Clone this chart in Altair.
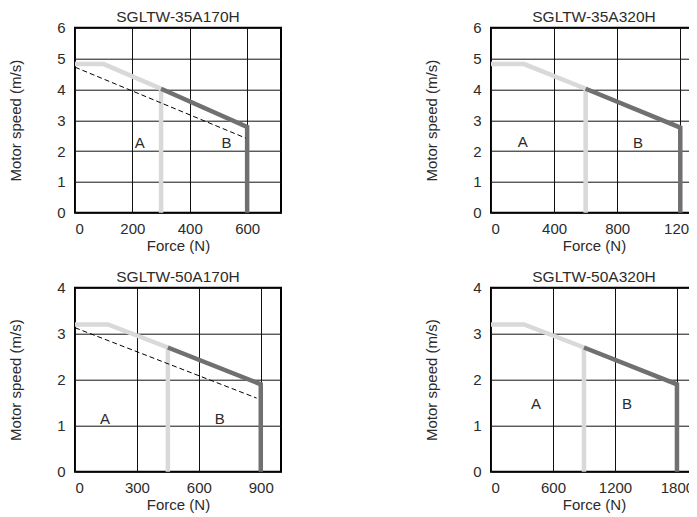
import altair as alt
import pandas as pd

FONT = "Liberation Sans"
TXT = "#2b2b2b"
LIGHT = "#d9d9d9"
DARK = "#707070"

# ---- data ----
titles = ["SGLTW-35A170H", "SGLTW-35A320H", "SGLTW-50A170H", "SGLTW-50A320H"]

tl_A_x = [0, 100, 300, 300]; tl_A_y = [4.82, 4.82, 4.02, 0]
tl_B_x = [300, 600, 600];    tl_B_y = [4.02, 2.78, 0]
tl_D_x = [0, 595];           tl_D_y = [4.72, 2.42]
tl_lab_x = [226, 528];       tl_lab_y = [2.25, 2.25]

tr_A_x = [0, 210, 600, 600]; tr_A_y = [4.82, 4.82, 4.02, 0]
tr_B_x = [600, 1200, 1200];  tr_B_y = [4.02, 2.76, 0]
tr_lab_x = [201, 932];       tr_lab_y = [2.3, 2.25]

bl_A_x = [0, 160, 450, 450]; bl_A_y = [3.2, 3.2, 2.7, 0]
bl_B_x = [450, 900, 900];    bl_B_y = [2.7, 1.9, 0]
bl_D_x = [0, 880];           bl_D_y = [3.13, 1.6]
bl_lab_x = [145, 701];       bl_lab_y = [1.14, 1.14]

br_A_x = [0, 320, 900, 900]; br_A_y = [3.2, 3.2, 2.7, 0]
br_B_x = [900, 1800, 1800];  br_B_y = [2.7, 1.9, 0]
br_lab_x = [436, 1316];      br_lab_y = [1.47, 1.47]

lab_text = ["A", "B"]

tl_xticks = [0, 200, 400, 600]
tr_xticks = [0, 400, 800, 1200]
bl_xticks = [0, 300, 600, 900]
br_xticks = [0, 600, 1200, 1800]

# x-axis maxima (the right-hand panels run past the page edge, as in the reference)
x_max = [718, 1306, 998, 1994]


def panel(title, xmax, xticks, ymax, w, h, Ax, Ay, Bx, By, Dx, Dy, lx, ly):
    rows = []
    for i, (x, y) in enumerate(zip(Ax, Ay)):
        rows.append({"x": x, "y": y, "s": "A", "o": i})
    for i, (x, y) in enumerate(zip(Bx, By)):
        rows.append({"x": x, "y": y, "s": "B", "o": i})
    df = pd.DataFrame(rows)
    xs = alt.Scale(domain=[0, xmax], nice=False, zero=True)
    ys = alt.Scale(domain=[0, ymax], nice=False)
    xaxis = alt.Axis(values=xticks, format="d", grid=True, gridColor="#111", gridWidth=1,
                     domain=False, ticks=False, labelPadding=9, labelFontSize=15,
                     labelFont=FONT, labelColor=TXT, title="Force (N)",
                     titleFontSize=15, titleFont=FONT, titleColor=TXT,
                     titleFontWeight="normal", titlePadding=2, labelOverlap=False)
    yaxis = alt.Axis(values=list(range(0, ymax + 1)), format="d", grid=True,
                     gridColor="#111", gridWidth=1, domain=False, ticks=False,
                     labelPadding=10, labelFontSize=15, labelFont=FONT, labelColor=TXT,
                     title="Motor speed (m/s)", titleFontSize=15, titleFont=FONT,
                     titleColor=TXT, titleFontWeight="normal", titlePadding=33,
                     labelOverlap=False)
    X = alt.X("x:Q", scale=xs, axis=xaxis)
    Y = alt.Y("y:Q", scale=ys, axis=yaxis)
    base_line = alt.Chart(df).mark_line(strokeWidth=4.5, strokeCap="butt",
                                        strokeJoin="miter").encode(
        x=X, y=Y,
        color=alt.Color("s:N", scale=alt.Scale(domain=["A", "B"], range=[LIGHT, DARK]),
                        legend=None),
        order="o:Q",
    )
    layers = [base_line]
    if Dx:
        dd = pd.DataFrame({"x": Dx, "y": Dy})
        layers.append(alt.Chart(dd).mark_line(color="black", strokeWidth=1,
                                              strokeDash=[5, 3]).encode(x=X, y=Y))
    ld = pd.DataFrame({"x": lx, "y": ly, "t": lab_text})
    layers.append(alt.Chart(ld).mark_text(font=FONT, fontSize=15, color=TXT).encode(
        x=X, y=Y, text="t:N"))
    return alt.layer(*layers).properties(
        width=w, height=h,
        title=alt.TitleParams(title, fontSize=15.5, font=FONT, color=TXT,
                              fontWeight="normal", offset=-5, anchor="middle"))


tl = panel(titles[0], x_max[0], tl_xticks, 6, 206, 185, tl_A_x, tl_A_y, tl_B_x, tl_B_y,
           tl_D_x, tl_D_y, tl_lab_x, tl_lab_y)
tr = panel(titles[1], x_max[1], tr_xticks, 6, 206, 185, tr_A_x, tr_A_y, tr_B_x, tr_B_y,
           [], [], tr_lab_x, tr_lab_y)
bl = panel(titles[2], x_max[2], bl_xticks, 4, 206, 184, bl_A_x, bl_A_y, bl_B_x, bl_B_y,
           bl_D_x, bl_D_y, bl_lab_x, bl_lab_y)
br = panel(titles[3], x_max[3], br_xticks, 4, 206, 184, br_A_x, br_A_y, br_B_x, br_B_y,
           [], [], br_lab_x, br_lab_y)

PAD_L, PAD_T = 67, 19.7
chart = alt.vconcat(
    alt.hconcat(tl, tr, spacing=141),
    alt.hconcat(bl, br, spacing=141),
    spacing=14,
).properties(
    autosize=alt.AutoSizeParams(type="none"),
    padding={"left": PAD_L, "top": PAD_T, "right": 681 - PAD_L, "bottom": 509 - PAD_T},
).configure_view(stroke="black", strokeWidth=2)

chart.save("out.html", embed_options={"renderer": "svg", "actions": False})
